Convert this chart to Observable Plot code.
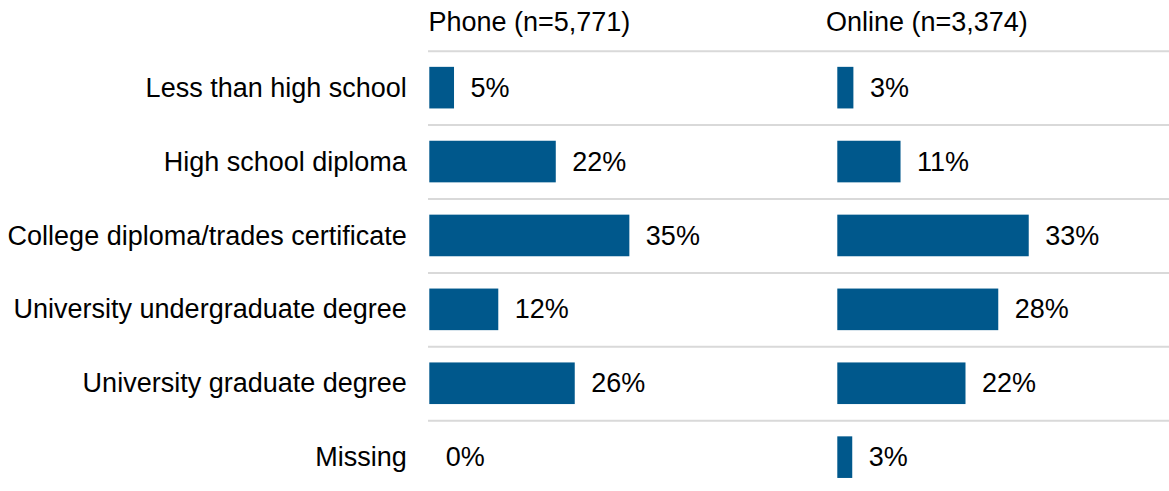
<!DOCTYPE html>
<html><head><meta charset="utf-8">
<script src="https://cdn.jsdelivr.net/npm/d3@7"></script>
<script src="https://cdn.jsdelivr.net/npm/@observablehq/plot@0.6"></script>
<style>html,body{margin:0;padding:0;background:#fff;overflow:hidden;}</style>
</head><body><div id="chart"></div>
<script>
const categories = ["Less than high school", "High school diploma", "College diploma/trades certificate", "University undergraduate degree", "University graduate degree", "Missing"];
const modes = ["Phone (n=5,771)", "Online (n=3,374)"];
const phoneValues = [4.3, 22.0, 34.8, 12.0, 25.3, 0];
const onlineValues = [2.8, 11.0, 33.3, 28.0, 22.3, 2.6];
const phoneLabels = ["5%", "22%", "35%", "12%", "26%", "0%"];
const onlineLabels = ["3%", "11%", "33%", "28%", "22%", "3%"];

const rows = [];
categories.forEach((c, i) => {
  rows.push({mode: modes[0], category: c, value: phoneValues[i], label: phoneLabels[i]});
  rows.push({mode: modes[1], category: c, value: onlineValues[i], label: onlineLabels[i]});
});

const font = "'Liberation Sans', Arial, sans-serif";
const chart = Plot.plot({
  width: 1169, height: 491,
  marginLeft: 429.3, marginRight: 0, marginTop: 50.7, marginBottom: 0,
  style: {fontFamily: font, fontSize: "27px", color: "#000", background: "#fff"},
  fx: {domain: modes, paddingInner: 0.187, paddingOuter: 0, round: false, axis: null, label: null},
  x: {domain: [0, 57.7], axis: null},
  y: {domain: categories, range: [50.7, 494.1], paddingInner: 0.437, paddingOuter: 0.2185, round: false, label: null, tickSize: 0, tickPadding: 23},
  marks: [
    Plot.ruleY(categories, {y: d => d, fx: () => modes[1], dy: -36.95, insetLeft: -409.3, stroke: "#d9d9d9", strokeWidth: 2}),
    Plot.barX(rows, {fx: "mode", y: "category", x: "value", fill: "#00588c"}),
    Plot.text(rows, {fx: "mode", y: "category", x: "value", text: "label", textAnchor: "start", dx: 16, fill: "#000"}),
    Plot.text([modes[0]], {fx: d => d, text: d => d, frameAnchor: "top-left", lineAnchor: "top", dy: -39.6, dx: -1.4, fill: "#000"}),
    Plot.text([modes[1]], {fx: d => d, text: d => d, frameAnchor: "top-left", lineAnchor: "top", dy: -39.6, dx: -11.9, fill: "#000"})
  ]
});
document.getElementById("chart").append(chart);
</script>
</body></html>
